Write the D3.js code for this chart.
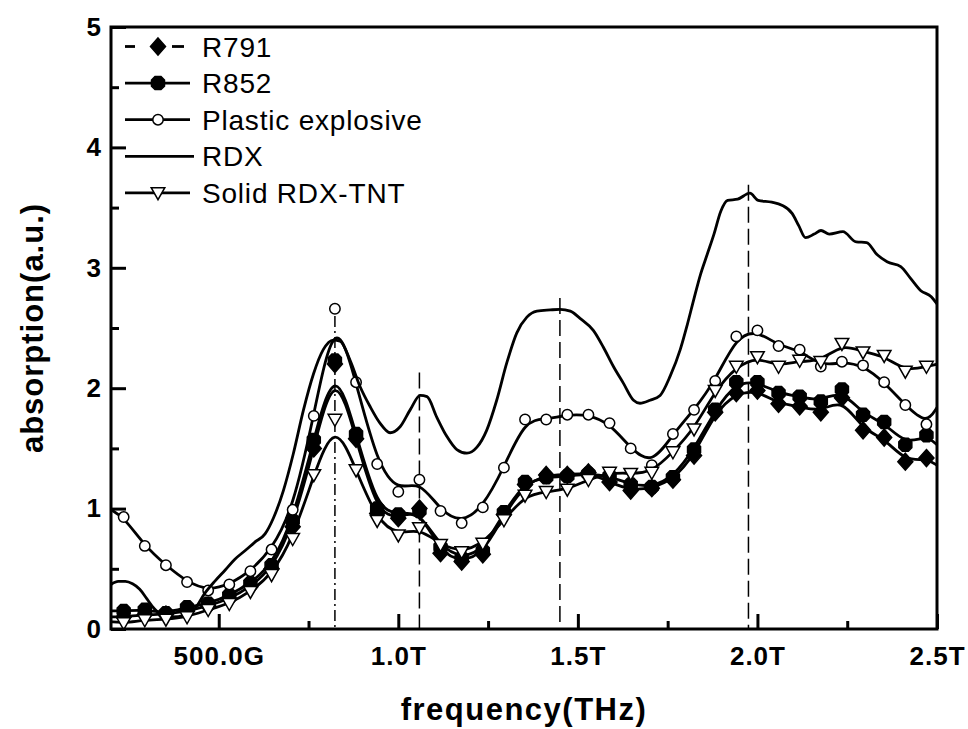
<!DOCTYPE html>
<html>
<head>
<meta charset="utf-8">
<script src="https://cdn.jsdelivr.net/npm/d3@7"></script>
<style>
  html, body { margin: 0; padding: 0; background: #fff; }
  svg { display: block; }
  text { font-family: "Liberation Sans", Arial, sans-serif; fill: #000; }
</style>
</head>
<body>
<svg id="chart" width="968" height="729"></svg>
<script>
// ---------- DATA ----------
// marker frequencies (THz)
const freqs = [0.2353,0.2941,0.3529,0.4118,0.4706,0.5294,0.5882,0.6471,0.7059,0.7647,
  0.8235,0.8824,0.9412,1.0000,1.0588,1.1176,1.1765,1.2353,1.2941,1.3529,
  1.4118,1.4706,1.5294,1.5882,1.6471,1.7059,1.7647,1.8235,1.8824,1.9412,
  2.0000,2.0588,2.1176,2.1765,2.2353,2.2941,2.3529,2.4118,2.4706];

const r791 = [0.10,0.12,0.12,0.15,0.19,0.25,0.35,0.50,0.85,1.50,
  2.20,1.58,0.96,0.92,1.00,0.63,0.56,0.62,0.95,1.20,
  1.28,1.28,1.30,1.22,1.15,1.17,1.24,1.44,1.80,1.96,
  1.98,1.87,1.85,1.80,1.92,1.65,1.59,1.39,1.42];
const r852 = [0.15,0.16,0.13,0.18,0.21,0.28,0.38,0.53,0.90,1.57,
  2.23,1.62,1.00,0.95,0.98,0.68,0.59,0.65,0.97,1.22,
  1.26,1.27,1.29,1.27,1.20,1.18,1.26,1.49,1.82,2.05,
  2.05,1.96,1.93,1.89,1.99,1.78,1.72,1.53,1.61];
const plastic = [0.93,0.69,0.53,0.39,0.32,0.37,0.48,0.66,0.99,1.77,
  2.66,2.05,1.37,1.14,1.24,0.98,0.88,1.01,1.34,1.74,
  1.74,1.78,1.78,1.71,1.50,1.36,1.62,1.82,2.06,2.43,
  2.48,2.35,2.32,2.18,2.22,2.19,2.05,1.86,1.70];
const rdxTnt = [0.05,0.075,0.08,0.10,0.16,0.21,0.31,0.45,0.75,1.28,
  1.74,1.32,0.90,0.78,0.84,0.70,0.64,0.71,0.905,1.11,
  1.14,1.16,1.24,1.30,1.29,1.30,1.47,1.66,1.98,2.18,
  2.26,2.18,2.23,2.22,2.37,2.30,2.27,2.14,2.18];
// line values at the left (0.2 THz) and right (2.5 THz) plot edges
const r791Ends = [0.10, 1.36];
const r852Ends = [0.15, 1.53];
const plasticEnds = [0.99, 1.84];
const rdxTntEnds = [0.06, 2.20];

// RDX (line only)
const rdxFreq = [0.200,0.220,0.240,0.260,0.280,0.300,0.320,0.340,0.369,0.406,
  0.434,0.462,0.490,0.518,0.545,0.573,0.600,0.629,0.652,0.680,
  0.708,0.736,0.764,0.791,0.819,0.838,0.866,0.894,0.921,0.949,
  0.977,1.005,1.033,1.061,1.080,1.107,1.135,1.163,1.191,1.219,
  1.246,1.274,1.302,1.330,1.358,1.386,1.423,1.450,1.479,1.506,
  1.543,1.571,1.599,1.627,1.655,1.673,1.701,1.729,1.757,1.785,
  1.804,1.823,1.841,1.860,1.879,1.898,1.917,1.945,1.979,2.002,
  2.040,2.068,2.097,2.115,2.134,2.158,2.177,2.200,2.238,2.275,
  2.304,2.333,2.361,2.399,2.427,2.455,2.484,2.500];
const rdxVal = [0.37,0.395,0.395,0.375,0.33,0.25,0.17,0.12,0.10,0.116,
  0.17,0.30,0.40,0.49,0.58,0.65,0.72,0.79,0.92,1.15,
  1.46,1.82,2.12,2.32,2.40,2.39,2.23,2.01,1.85,1.71,
  1.63,1.68,1.82,1.94,1.93,1.76,1.60,1.49,1.46,1.51,
  1.65,1.90,2.21,2.46,2.59,2.64,2.65,2.655,2.64,2.58,
  2.48,2.34,2.18,2.04,1.90,1.875,1.90,1.94,2.10,2.32,
  2.52,2.74,2.94,3.11,3.28,3.47,3.56,3.57,3.62,3.56,
  3.545,3.52,3.45,3.35,3.25,3.28,3.31,3.28,3.30,3.215,
  3.21,3.11,3.05,3.01,2.91,2.81,2.76,2.70];

// reference vertical lines: frequency, top value
const vLineFreq = [0.8235, 1.0588, 1.45, 1.975];
const vLineTop = [2.60, 2.13, 2.75, 3.69];

const seriesNames = ["R791", "R852", "Plastic explosive", "RDX", "Solid RDX-TNT"];
const xMajorTicks = [0.5, 1.0, 1.5, 2.0, 2.5];
const xTickLabels = ["500.0G", "1.0T", "1.5T", "2.0T", "2.5T"];
const xMinorTicks = [0.75, 1.25, 1.75, 2.25];
const yMajorTicks = [0, 1, 2, 3, 4, 5];
const yMinorTicks = [0.5, 1.5, 2.5, 3.5, 4.5];

// ---------- LAYOUT ----------
const L = 111, R = 937, T = 27, B = 629;
const LW = 2.8;
const svg = d3.select("#chart");
const x = d3.scaleLinear().domain([0.2, 2.5]).range([L, R]);
const y = d3.scaleLinear().domain([0, 5]).range([B, T]);

svg.append("defs").append("clipPath").attr("id", "clip")
  .append("rect").attr("x", L).attr("y", T).attr("width", R - L).attr("height", B - T);

// vertical dashed lines
const dashes = ["11,4,2,4", "16,6", "16,6", "16,6"];
svg.append("g").selectAll("line").data(vLineFreq).join("line")
  .attr("x1", d => x(d)).attr("x2", d => x(d))
  .attr("y1", (d, i) => y(vLineTop[i])).attr("y2", y(0))
  .attr("stroke", "#000").attr("stroke-width", 1.5)
  .attr("stroke-dasharray", (d, i) => dashes[i]);

// symbol path generators (centered at 0,0)
const sym = {
  diamond: "M0,-8.5L7.5,0L0,8.5L-7.5,0Z",
  hex: "M-3,-6.5L3,-6.5L6.5,-3L6.5,3L3,6.5L-3,6.5L-6.5,3L-6.5,-3Z",
  circle: d3.symbol(d3.symbolCircle, Math.PI * 27)(),
  tri: "M-6.8,-5.2L6.8,-5.2L0,6.8Z"
};

const plotG = svg.append("g").attr("clip-path", "url(#clip)");

const basis = d3.line().x(d => x(d[0])).y(d => y(d[1])).curve(d3.curveBasis);

function markerSeries(vals, ends, shape, fill) {
  const pts = freqs.map((f, i) => [f, vals[i]]);
  const linePts = [[0.2, ends[0]], ...pts, [2.5, ends[1]]];
  plotG.append("path").datum(linePts)
    .attr("d", basis).attr("fill", "none")
    .attr("stroke", "#000").attr("stroke-width", LW).attr("stroke-linejoin", "round");
  plotG.append("g").selectAll("path").data(pts).join("path")
    .attr("d", sym[shape])
    .attr("transform", d => `translate(${x(d[0])},${y(d[1])})`)
    .attr("fill", fill).attr("stroke", "#000").attr("stroke-width", 1.5);
}

markerSeries(r791, r791Ends, "diamond", "#000");
markerSeries(r852, r852Ends, "hex", "#000");
markerSeries(plastic, plasticEnds, "circle", "#fff");

// RDX line
plotG.append("path").datum(rdxFreq.map((f, i) => [f, rdxVal[i]]))
  .attr("d", d3.line().x(d => x(d[0])).y(d => y(d[1])).curve(d3.curveMonotoneX))
  .attr("fill", "none").attr("stroke", "#000").attr("stroke-width", LW)
  .attr("stroke-linejoin", "round");

markerSeries(rdxTnt, rdxTntEnds, "tri", "#fff");

// ---------- AXES ----------
const tickFont = g => g.selectAll("text")
  .attr("font-size", 26).attr("font-weight", "bold")
  .attr("letter-spacing", "1px")
  .style("font-family", '"Liberation Sans", Arial, sans-serif');

const xAxis = svg.append("g").attr("transform", `translate(0,${B})`)
  .call(d3.axisBottom(x).tickValues(xMajorTicks).tickSize(-15).tickPadding(18)
    .tickFormat((d, i) => xTickLabels[i]));
xAxis.select(".domain").remove();
xAxis.selectAll("line").attr("stroke-width", 3);
xAxis.call(tickFont);

const xMinor = svg.append("g").attr("transform", `translate(0,${B})`)
  .call(d3.axisBottom(x).tickValues(xMinorTicks).tickSize(-8).tickFormat(""));
xMinor.select(".domain").remove();
xMinor.selectAll("line").attr("stroke-width", 3);

const yAxis = svg.append("g").attr("transform", `translate(${L},0)`)
  .call(d3.axisLeft(y).tickValues(yMajorTicks).tickSize(-15).tickPadding(9)
    .tickFormat(d3.format("d")));
yAxis.select(".domain").remove();
yAxis.selectAll("line").attr("stroke-width", 3);
yAxis.call(tickFont);

const yMinor = svg.append("g").attr("transform", `translate(${L},0)`)
  .call(d3.axisLeft(y).tickValues(yMinorTicks).tickSize(-8).tickFormat(""));
yMinor.select(".domain").remove();
yMinor.selectAll("line").attr("stroke-width", 3);

// frame
svg.append("rect").attr("x", L).attr("y", T).attr("width", R - L).attr("height", B - T)
  .attr("fill", "none").attr("stroke", "#000").attr("stroke-width", 3);

// axis titles
svg.append("text").attr("x", (L + R) / 2).attr("y", 720)
  .attr("text-anchor", "middle").attr("font-size", 31).attr("font-weight", "bold")
  .attr("letter-spacing", "1.5px").text("frequency(THz)");
svg.append("text").attr("transform", `translate(43,${(T + B) / 2}) rotate(-90)`)
  .attr("text-anchor", "middle").attr("font-size", 31).attr("font-weight", "bold")
  .attr("letter-spacing", "1px").text("absorption(a.u.)");

// ---------- LEGEND ----------
const legShapes = ["diamond", "hex", "circle", null, "tri"];
const legFills = ["#000", "#000", "#fff", null, "#fff"];
const legY0 = 46.5, legDy = 36.6;
const leg = svg.append("g");
seriesNames.forEach((name, i) => {
  const cy = legY0 + i * legDy;
  const g = leg.append("g");
  if (i === 0) {
    g.append("line").attr("x1", 125).attr("x2", 135).attr("y1", cy).attr("y2", cy)
      .attr("stroke", "#000").attr("stroke-width", LW);
    g.append("line").attr("x1", 172).attr("x2", 184).attr("y1", cy).attr("y2", cy)
      .attr("stroke", "#000").attr("stroke-width", LW);
  } else {
    g.append("line").attr("x1", 125).attr("x2", i === 3 ? 194 : 190).attr("y1", cy).attr("y2", cy)
      .attr("stroke", "#000").attr("stroke-width", LW);
  }
  if (legShapes[i]) {
    g.append("path").attr("d", sym[legShapes[i]])
      .attr("transform", `translate(158,${cy})`)
      .attr("fill", legFills[i]).attr("stroke", "#000").attr("stroke-width", 1.5);
  }
  g.append("text").attr("x", 202).attr("y", cy + 10)
    .attr("font-size", 28).attr("letter-spacing", "0.8px").text(name);
});
</script>
</body>
</html>
